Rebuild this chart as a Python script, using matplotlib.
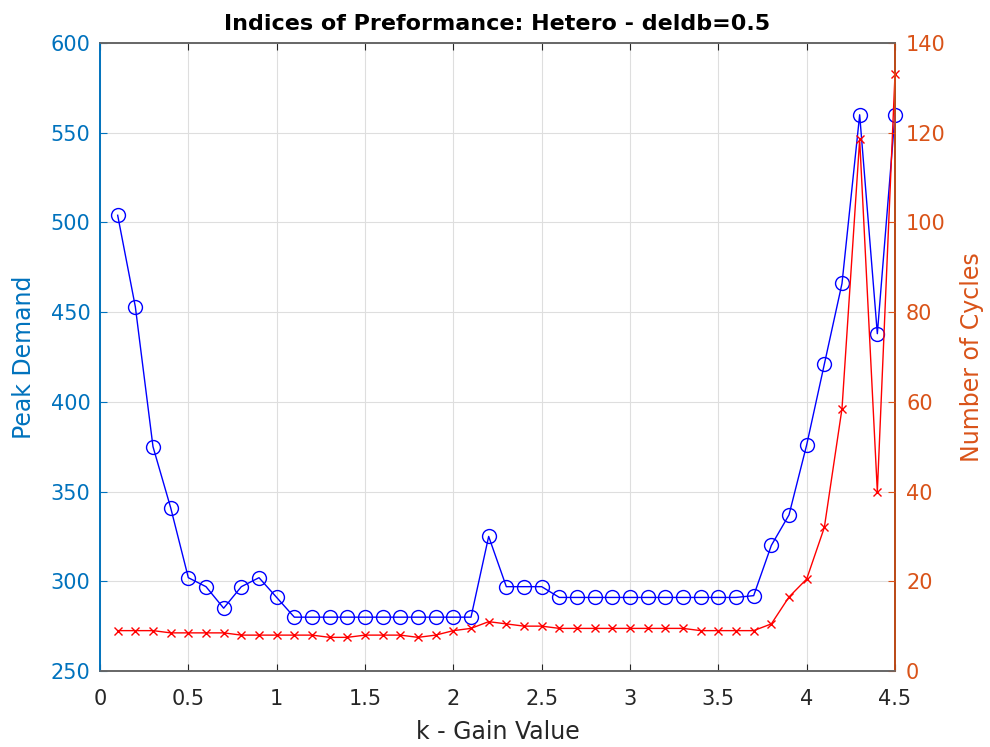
import numpy as np
import matplotlib
matplotlib.use("Agg")
import matplotlib.pyplot as plt

plt.rcParams['font.family'] = ['DejaVu Sans']

k = [round(0.1 * i, 1) for i in range(1, 46)]
peak = [504, 453, 375, 341, 302, 297, 285, 297, 302, 291,
        280, 280, 280, 280, 280, 280, 280, 280, 280, 280,
        280, 325, 297, 297, 297, 291, 291, 291, 291, 291,
        291, 291, 291, 291, 291, 291, 292, 320, 337, 376,
        421, 466, 560, 438, 560]
cycles = [9, 9, 9, 8.5, 8.5, 8.5, 8.5, 8, 8, 8,
          8, 8, 7.5, 7.5, 8, 8, 8, 7.5, 8, 9,
          9.5, 11, 10.5, 10, 10, 9.5, 9.5, 9.5, 9.5, 9.5,
          9.5, 9.5, 9.5, 9, 9, 9, 9, 10.5, 16.5, 20.5,
          32, 58.5, 118.5, 40, 133]

mblue = (0, 0.447, 0.741)
morange = (0.85, 0.325, 0.098)
gray = (0.15, 0.15, 0.15)
boxgray = (0.4, 0.4, 0.4)

fig = plt.figure(figsize=(9.9, 7.47), dpi=100)
ax = fig.add_axes([100/990, 1 - 671/747, 795/990, 628/747])
ax.plot(k, peak, '-o', color='blue', mfc='none', ms=10, lw=1.0, mew=1.0,
        zorder=3, clip_on=False)
ax.set_xlim(0, 4.5)
ax.set_ylim(250, 600)
ax.set_xticks(np.arange(0, 4.51, 0.5))
ax.set_xticklabels(['0', '0.5', '1', '1.5', '2', '2.5', '3', '3.5', '4', '4.5'])
ax.set_yticks(np.arange(250, 601, 50))
ax.grid(True, color=(0.87, 0.87, 0.87), lw=0.8)
ax.set_axisbelow(True)
ax.tick_params(axis='x', colors=gray, labelsize=15, direction='in', top=True,
               length=5, pad=13)
ax.tick_params(axis='y', colors=mblue, labelsize=15, direction='in', length=5, pad=7)
ax.set_xlabel('k - Gain Value', fontsize=17, color=gray, va='center')
ax.xaxis.set_label_coords(0.5, (671 - 732) / 628)
ax.set_ylabel('Peak Demand', fontsize=17, color=mblue, va='center')
ax.yaxis.set_label_coords((24 - 100) / 795, 0.5)
ax.set_title('Indices of Preformance: Hetero - deldb=0.5', fontsize=16,
             fontweight='bold', color='black', pad=9)
ax.spines['left'].set_color(mblue)
ax.spines['bottom'].set_color(boxgray)
ax.spines['top'].set_color(boxgray)
for s in ax.spines.values():
    s.set_linewidth(1.2)

ax2 = ax.twinx()
ax2.plot(k, cycles, '-x', color='red', ms=6, lw=1.0, mew=1.0, zorder=2, clip_on=False)
ax2.set_ylim(0, 140)
ax2.set_yticks(np.arange(0, 141, 20))
ax2.tick_params(axis='y', colors=morange, labelsize=15, direction='in', length=5, pad=8)
ax2.set_ylabel('Number of Cycles', fontsize=17, color=morange, va='center')
ax2.yaxis.set_label_coords((972 - 100) / 795, 0.5)
ax2.spines['right'].set_color(morange)
ax2.spines['left'].set_color(mblue)
ax2.spines['top'].set_color(boxgray)
ax2.spines['bottom'].set_color(boxgray)
for s in ax2.spines.values():
    s.set_linewidth(1.2)

fig.savefig('out.png', dpi=100)
